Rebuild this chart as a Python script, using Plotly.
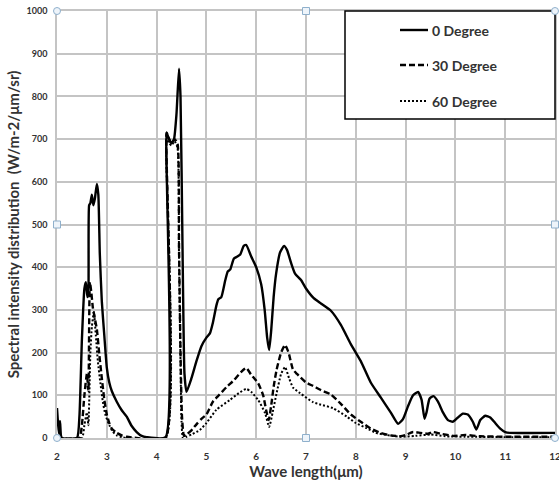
import plotly.graph_objects as go

# ---------------- data ----------------
series_names = ["0 Degree", "30 Degree", "60 Degree"]

x_0deg = [2.0, 2.02, 2.04, 2.06, 2.08, 2.1, 2.4, 2.45, 2.5, 2.55, 2.58, 2.61, 2.63, 2.645, 2.67, 2.7,
          2.73, 2.76, 2.8, 2.83, 2.86, 2.9, 2.95, 3.0, 3.05, 3.1, 3.2, 3.3, 3.4, 3.5, 3.6, 3.7, 3.8,
          4.18, 4.2, 4.25, 4.3, 4.35, 4.4, 4.45, 4.48, 4.52, 4.56, 4.6, 4.7, 4.8, 4.9, 5.0, 5.07,
          5.13, 5.2, 5.24, 5.3, 5.38, 5.43, 5.48, 5.55, 5.62, 5.68, 5.75, 5.8, 5.9, 6.0, 6.1, 6.17,
          6.22, 6.26, 6.3, 6.35, 6.4, 6.48, 6.56, 6.62, 6.7, 6.78, 6.9, 7.0, 7.15, 7.3, 7.5, 7.7,
          7.9, 8.1, 8.3, 8.5, 8.7, 8.85, 8.95, 9.05, 9.15, 9.25, 9.32, 9.38, 9.42, 9.48, 9.56, 9.65,
          9.75, 9.85, 9.95, 10.05, 10.15, 10.25, 10.35, 10.42, 10.5, 10.6, 10.7, 10.8, 10.9, 11.0,
          11.1, 12.0]
y_0deg = [70, 35, 10, 40, 5, 0, 0, 50, 230, 350, 365, 330, 340, 545, 550, 570,
          545, 560, 595, 570, 430, 320, 240, 165, 130, 110, 85, 65, 50, 28, 14, 5, 2,
          2, 715, 700, 690, 700, 760, 865, 800, 450, 150, 108, 140, 180, 215, 235, 245,
          270, 310, 325, 330, 370, 390, 395, 420, 425, 430, 450, 452, 425, 400, 360, 300,
          235, 206, 250, 330, 385, 435, 450, 440, 410, 385, 370, 350, 328, 315, 298, 265,
          220, 180, 130, 95, 60, 33, 45, 75, 100, 108, 90, 45, 60, 92, 98, 85,
          60, 42, 38, 48, 57, 55, 38, 20, 42, 52, 48, 35, 22, 14,
          12, 12]

x_30deg = [2.0, 2.45, 2.5, 2.55, 2.6, 2.63, 2.66, 2.69, 2.72, 2.76, 2.8, 2.85, 2.9, 2.95, 3.0, 3.05,
           3.1, 3.2, 3.3, 3.4, 3.6, 4.18, 4.2, 4.25, 4.3, 4.36, 4.42, 4.45, 4.48, 4.51, 4.55, 4.6,
           4.7, 4.8, 4.9, 5.0, 5.13, 5.25, 5.41, 5.55, 5.7, 5.8, 5.9, 6.04, 6.14, 6.2, 6.25, 6.3,
           6.35, 6.41, 6.5, 6.58, 6.65, 6.74, 6.82, 7.0, 7.14, 7.3, 7.5, 7.7, 7.9, 8.1, 8.3, 8.5,
           8.7, 8.9, 9.0, 9.15, 9.3, 9.45, 9.55, 9.7, 9.95, 10.2, 10.5, 11.0, 12.0]
y_30deg = [0, 0, 30, 100, 150, 110, 365, 340, 305, 280, 255, 195, 140, 90, 55, 35,
           22, 12, 6, 3, 0, 0, 715, 700, 690, 700, 690, 450, 200, 50, 5, 8,
           18, 32, 45, 55, 85, 100, 120, 135, 155, 164, 148, 128, 100, 65, 42, 75,
           120, 160, 200, 218, 200, 160, 150, 130, 122, 112, 102, 80, 55, 38, 22, 12,
           6, 4, 7, 14, 12, 10, 14, 10, 5, 7, 4, 3, 3]

x_60deg = [2.0, 2.5, 2.55, 2.6, 2.63, 2.67, 2.7, 2.74, 2.78, 2.82, 2.87, 2.92, 2.97, 3.05, 3.12, 3.2,
           3.3, 3.4, 4.18, 4.2, 4.25, 4.3, 4.36, 4.42, 4.45, 4.48, 4.5, 4.53, 4.6, 4.7, 4.87, 5.0,
           5.2, 5.47, 5.65, 5.8, 5.9, 6.04, 6.18, 6.26, 6.33, 6.41, 6.5, 6.58, 6.66, 6.74, 6.88, 7.14,
           7.3, 7.54, 7.82, 8.0, 8.22, 8.4, 8.62, 8.9, 9.2, 9.5, 9.8, 10.2, 11.0, 12.0]
y_60deg = [0, 0, 30, 60, 30, 200, 260, 295, 240, 180, 130, 85, 55, 30, 15, 6,
           2, 0, 0, 700, 690, 685, 695, 680, 420, 180, 40, 0, 3, 8, 19, 35,
           66, 89, 105, 115, 108, 89, 58, 26, 60, 105, 150, 166, 140, 118, 105, 84,
           78, 70, 50, 35, 23, 12, 7, 3, 5, 8, 4, 3, 2, 2]

x_ticks = [2, 3, 4, 5, 6, 7, 8, 9, 10, 11, 12]
y_ticks = [0, 100, 200, 300, 400, 500, 600, 700, 800, 900, 1000]

# ---------------- figure ----------------
FONT = "Lato, 'Open Sans', 'DejaVu Sans', sans-serif"
TXT = "#333333"

styles = [
    dict(color="black", width=2.4, dash="solid"),
    dict(color="black", width=2.4, dash="6px,3px"),
    dict(color="black", width=2.0, dash="2px,2px"),
]
xs = [x_0deg, x_30deg, x_60deg]
ys = [y_0deg, y_30deg, y_60deg]

fig = go.Figure()
for name, x, y, st in zip(series_names, xs, ys, styles):
    fig.add_trace(go.Scatter(x=x, y=y, mode="lines", name=name,
                             line=dict(st, shape="spline", smoothing=0.5), showlegend=False))

W, H = 559, 490
L, R, T, B = 57, 4, 11, 52
pw, ph = W - L - R, H - T - B

def px2paper_x(px):
    return (px - L) / pw

def px2paper_y(py):
    return (H - B - py) / ph

shapes = []
annotations = []

# legend box (drawn manually)
shapes.append(dict(type="rect", xref="paper", yref="paper",
                   x0=px2paper_x(345), x1=1.0, y0=px2paper_y(119), y1=1.0,
                   line=dict(color="black", width=1.5), fillcolor="white", layer="above"))
leg_y = [30, 65, 101]
for name, st, py in zip(series_names, styles, leg_y):
    shapes.append(dict(type="line", xref="paper", yref="paper",
                       x0=px2paper_x(400), x1=px2paper_x(428),
                       y0=px2paper_y(py), y1=px2paper_y(py),
                       line=st, layer="above"))
    annotations.append(dict(xref="paper", yref="paper", x=px2paper_x(430), y=px2paper_y(py),
                            text=name, showarrow=False, xanchor="left", yanchor="middle",
                            font=dict(family=FONT, size=14, color=TXT, weight=700)))

# selection handles at chart corners/midpoints
for (hx, hy, kind) in [(0, 0, "circle"), (0, 1, "circle"), (1, 1, "circle"), (1, 0, "circle"),
                       (0.5, 1, "rect"), (0.5, 0, "rect"), (0, 0.5, "rect"), (1, 0.5, "rect")]:
    cx, cy = L + hx * pw, H - B - hy * ph
    shapes.append(dict(type=kind, xref="paper", yref="paper",
                       x0=px2paper_x(cx - 3.5), x1=px2paper_x(cx + 3.5),
                       y0=px2paper_y(cy + 3.5), y1=px2paper_y(cy - 3.5),
                       line=dict(color="#8fb0cc", width=1), fillcolor="#eef4fa", layer="above"))

fig.update_layout(
    width=W, height=H,
    margin=dict(l=L, r=R, t=T, b=B, pad=0, autoexpand=False),
    paper_bgcolor="white", plot_bgcolor="white",
    font=dict(family=FONT, color=TXT),
    shapes=shapes, annotations=annotations,
)
fig.update_xaxes(
    range=[2, 12], tickvals=x_ticks, showgrid=True, gridcolor="#c4c4c4", gridwidth=1.5,
    zeroline=False, showline=True, linecolor="#c4c4c4", linewidth=1.5, mirror=True,
    ticks="", ticklabelstandoff=8, automargin=False, ticklabeloverflow="allow",
    tickfont=dict(family=FONT, size=10, color=TXT, weight=700),
    title=dict(text="Wave length(μm)", standoff=4,
               font=dict(family=FONT, size=15, color=TXT, weight=700)),
)
fig.update_yaxes(
    range=[0, 1000], tickvals=y_ticks, showgrid=True, gridcolor="#c4c4c4", gridwidth=1.5,
    zeroline=False, showline=True, linecolor="#c4c4c4", linewidth=1.5, mirror=True,
    ticks="", ticklabelstandoff=6, automargin=False, ticklabeloverflow="allow",
    tickfont=dict(family=FONT, size=9, color=TXT, weight=700),
    title=dict(text="Spectral intensity distribution  (W/m-2/μm/sr)", standoff=3,
               font=dict(family=FONT, size=15, color=TXT, weight=700)),
)

fig.write_html("out.html", config={"displayModeBar": False},
               post_script="document.body.style.margin='0';document.body.style.overflow='hidden';")
